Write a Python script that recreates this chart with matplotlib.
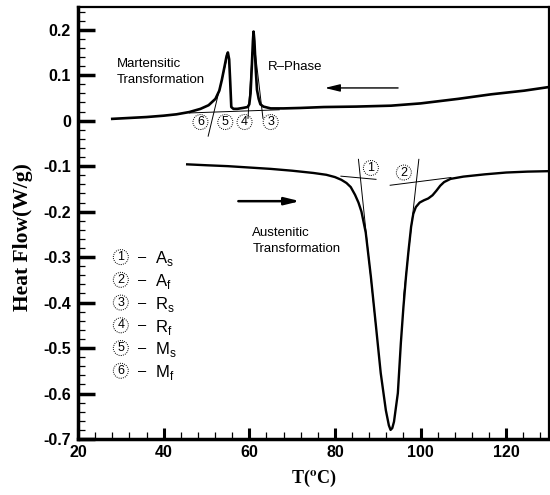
import matplotlib
matplotlib.use("Agg")
import matplotlib.pyplot as plt
from matplotlib.ticker import MultipleLocator

# cooling run (upper curve)
cool_T = [28.0, 32, 36, 40, 43, 46, 48.6, 50.5, 52.1, 53.0, 53.6, 54.2, 54.7, 55.0,
          55.3, 55.55, 55.8, 56.3, 57.2, 58.5, 59.6, 60.0, 60.3, 60.6, 60.85, 61.0,
          61.2, 61.5, 61.8, 62.2, 62.6, 63.3, 65.0, 68, 72, 77.4, 85, 93.1, 100,
          108.8, 116.5, 124.2, 130]
cool_HF = [0.004, 0.006, 0.008, 0.011, 0.014, 0.019, 0.026, 0.034, 0.048, 0.066,
           0.090, 0.118, 0.142, 0.150, 0.135, 0.085, 0.030, 0.026, 0.026, 0.028,
           0.030, 0.036, 0.060, 0.120, 0.175, 0.196, 0.175, 0.115, 0.068, 0.048,
           0.036, 0.031, 0.027, 0.027, 0.028, 0.030, 0.031, 0.033, 0.038, 0.048,
           0.058, 0.066, 0.074]

# heating run (lower curve)
heat_T = [45.5, 50, 55, 60, 65, 70, 75, 78, 80, 81.5, 82.7, 83.7, 84.7, 85.5, 86.2,
          87.2, 88.4, 89.6, 90.7, 91.9, 92.6, 93.0, 93.4, 93.8, 94.7, 95.4, 96.0,
          96.6, 97.2, 97.8, 98.3, 98.9, 99.8, 100.8, 101.8, 102.8, 103.7, 104.6,
          105.5, 107, 110, 115, 120, 125, 130]
heat_HF = [-0.096, -0.098, -0.100, -0.103, -0.106, -0.110, -0.115, -0.119, -0.124,
           -0.130, -0.137, -0.146, -0.163, -0.180, -0.200, -0.246, -0.343, -0.453,
           -0.555, -0.637, -0.670, -0.680, -0.676, -0.662, -0.599, -0.489, -0.410,
           -0.343, -0.285, -0.233, -0.205, -0.190, -0.180, -0.175, -0.171, -0.164,
           -0.154, -0.143, -0.135, -0.128, -0.123, -0.118, -0.114, -0.112, -0.111]

# construction (tangent / baseline) lines: (T0, T1), (HF0, HF1)
tangents = [
    ((50.4, 54.6), (-0.034, 0.130)),
    ((46.0, 67.0), (0.017, 0.024)),
    ((59.7, 60.7), (0.005, 0.150)),
    ((61.4, 63.2), (0.150, 0.005)),
    ((81.4, 89.6), (-0.122, -0.129)),
    ((85.5, 89.6), (-0.085, -0.455)),
    ((92.9, 107.1), (-0.142, -0.125)),
    ((99.6, 96.0), (-0.085, -0.390)),
]

# circled point numbers on the curves
pt_nums = ['6', '5', '4', '3', '1', '2']
pt_T = [48.6, 54.4, 58.9, 65.0, 88.4, 96.1]
pt_HF = [-0.003, -0.003, -0.003, -0.003, -0.104, -0.114]

# key on the left
key_nums = ['1', '2', '3', '4', '5', '6']
key_names = [r'A$_\mathregular{s}$', r'A$_\mathregular{f}$', r'R$_\mathregular{s}$',
             r'R$_\mathregular{f}$', r'M$_\mathregular{s}$', r'M$_\mathregular{f}$']

fig = plt.figure(figsize=(5.5, 4.95), dpi=100)
ax = fig.add_axes([78/550, 1-439/495, 471/550, 432/495])

ax.plot(cool_T, cool_HF, color='k', lw=1.9)
ax.plot(heat_T, heat_HF, color='k', lw=1.7)
for tx, ty in tangents:
    ax.plot(tx, ty, color='k', lw=0.7)

circ = dict(boxstyle='circle,pad=0.12', fc='none', ec='k', ls=(0, (1, 1.2)), lw=0.7)
for n, t, h in zip(pt_nums, pt_T, pt_HF):
    ax.text(t, h, n, fontsize=9, family='Liberation Sans', ha='center', va='center', bbox=circ)

for i, (n, name) in enumerate(zip(key_nums, key_names)):
    y = -0.30 - 0.05*i
    ax.text(30.0, y, n, fontsize=9, family='Liberation Sans', ha='center', va='center', bbox=circ)
    ax.text(34.0, y, u'\u2013', fontsize=10.5, family='Liberation Sans', ha='left', va='center')
    ax.text(38.0, y - 0.004, name, fontsize=12, family='Liberation Sans', ha='left', va='center')

txt = dict(fontsize=9.5, family='Liberation Sans', linespacing=1.45)
ax.text(29.1, 0.108, 'Martensitic\nTransformation', ha='left', va='center', **txt)
ax.text(64.3, 0.118, 'R\u2013Phase', ha='left', va='center', **txt)
ax.text(60.7, -0.265, 'Austenitic\nTransformation', ha='left', va='center', **txt)

ax.annotate('', xy=(77.0, 0.072), xytext=(95.4, 0.072),
            arrowprops=dict(arrowstyle='-|>,head_length=0.9,head_width=0.22', color='k', lw=1.0))
ax.annotate('', xy=(72.5, -0.177), xytext=(56.8, -0.177),
            arrowprops=dict(arrowstyle='-|>,head_length=0.9,head_width=0.22', color='k', lw=1.8))

ax.set_xlim(20, 130)
ax.set_ylim(-0.7, 0.25)
ax.xaxis.set_major_locator(MultipleLocator(20))
ax.xaxis.set_minor_locator(MultipleLocator(4))
ax.yaxis.set_major_locator(MultipleLocator(0.1))
ax.yaxis.set_minor_locator(MultipleLocator(0.02))
ax.set_yticks([0.2, 0.1, 0, -0.1, -0.2, -0.3, -0.4, -0.5, -0.6, -0.7])
ax.set_yticklabels(['0.2', '0.1', '0', '-0.1', '-0.2', '-0.3', '-0.4', '-0.5', '-0.6', '-0.7'])

ax.tick_params(axis='both', which='both', direction='in', top=False, right=False)
ax.tick_params(axis='y', which='major', length=12, width=2.5, pad=5)
ax.tick_params(axis='x', which='major', length=8, width=2.2, pad=4)
ax.tick_params(axis='both', which='minor', length=5, width=0.9)
for lab in ax.get_xticklabels() + ax.get_yticklabels():
    lab.set_family('Liberation Sans')
    lab.set_fontweight('bold')
    lab.set_fontsize(11.5)

ax.spines['left'].set_linewidth(2.5)
ax.spines['bottom'].set_linewidth(2.5)
ax.spines['top'].set_linewidth(1.6)
ax.spines['right'].set_linewidth(1.6)

fig.text(314/550, 1-478/495, r'T($^{\mathbf{o}}$C)', family='Liberation Serif', fontweight='bold',
         fontsize=13, ha='center', va='center', math_fontfamily='stix')
fig.text(23/550, 1-237/495, 'Heat Flow(W/g)', family='Liberation Serif', fontweight='bold',
         fontsize=15.5, rotation=90, ha='center', va='center')

fig.savefig('out.png', dpi=100)
